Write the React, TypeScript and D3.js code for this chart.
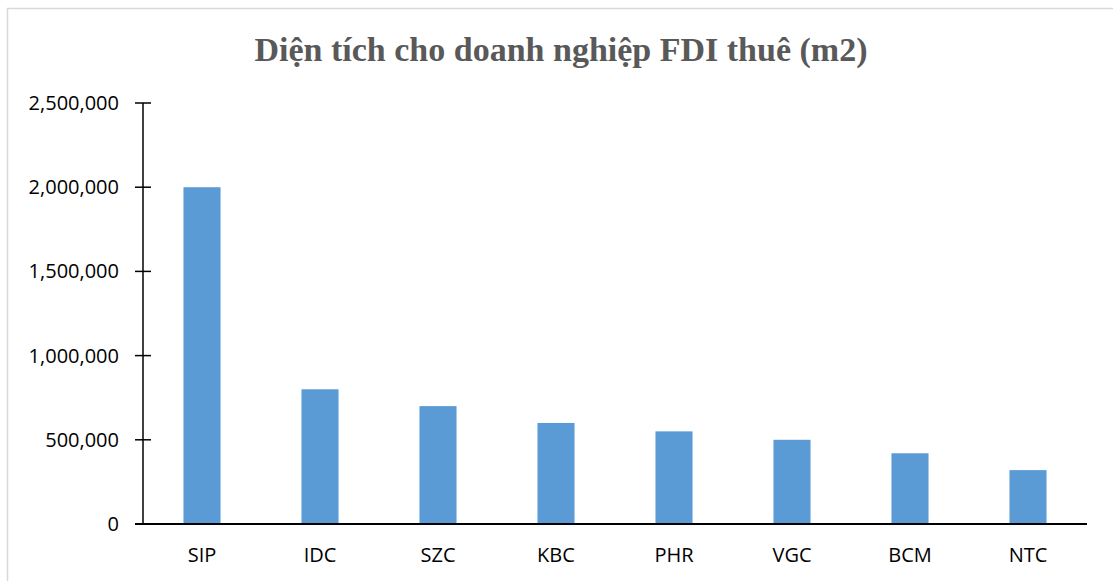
import React from "react";
import * as d3 from "d3";

const categories = ["SIP", "IDC", "SZC", "KBC", "PHR", "VGC", "BCM", "NTC"];
const values = [2000000, 800000, 700000, 600000, 550000, 500000, 420000, 320000];
const yTicks = [0, 500000, 1000000, 1500000, 2000000, 2500000];
const title = "Diện tích cho doanh nghiệp FDI thuê (m2)";

const W = 1113;
const H = 581;
const left = 143;
const right = 1087;
const top = 103;
const bottom = 524;

const App = () => {
    const x = d3.scaleBand().domain(categories).range([left, right]).paddingInner(0.686).paddingOuter(0.343);
    const y = d3.scaleLinear().domain([0, 2500000]).range([bottom, top]);
    const fmt = d3.format(",d");
    const font = "'Open Sans', 'Liberation Sans', sans-serif";

    return (
        <svg width={W} height={H} style={{ position: "absolute", left: 0, top: 0, background: "#fff" }}>
            <rect x={7.5} y={8.5} width={W + 10} height={H + 10} fill="#fff" stroke="#d9d9d9" strokeWidth={1.5} />
            <text x={561} y={61} textAnchor="middle" fill="#595959" fontFamily="'Liberation Serif', 'Times New Roman', serif"
                fontWeight="bold" fontSize={34}>{title}</text>
            {values.map((v, i) => (
                <rect key={categories[i]} x={x(categories[i])} y={y(v)} width={x.bandwidth()} height={bottom - y(v)} fill="#5B9BD5" />
            ))}
            <line x1={left} x2={left} y1={top} y2={bottom} stroke="#000" strokeWidth={1.5} />
            {yTicks.map(t => (
                <g key={t}>
                    <line x1={135} x2={151} y1={y(t)} y2={y(t)} stroke="#000" strokeWidth={1.5} />
                    <text x={119} y={y(t)} dy="0.35em" textAnchor="end" fontFamily={font} fontSize={20} fill="#000">{fmt(t)}</text>
                </g>
            ))}
            <line x1={135} x2={right} y1={bottom} y2={bottom} stroke="#000" strokeWidth={2} />
            {categories.map(c => (
                <text key={c} x={(x(c) ?? 0) + x.bandwidth() / 2} y={555} dy="0.35em" textAnchor="middle" fontFamily={font}
                    fontSize={20} fill="#000">{c}</text>
            ))}
        </svg>
    );
};

export default App;
